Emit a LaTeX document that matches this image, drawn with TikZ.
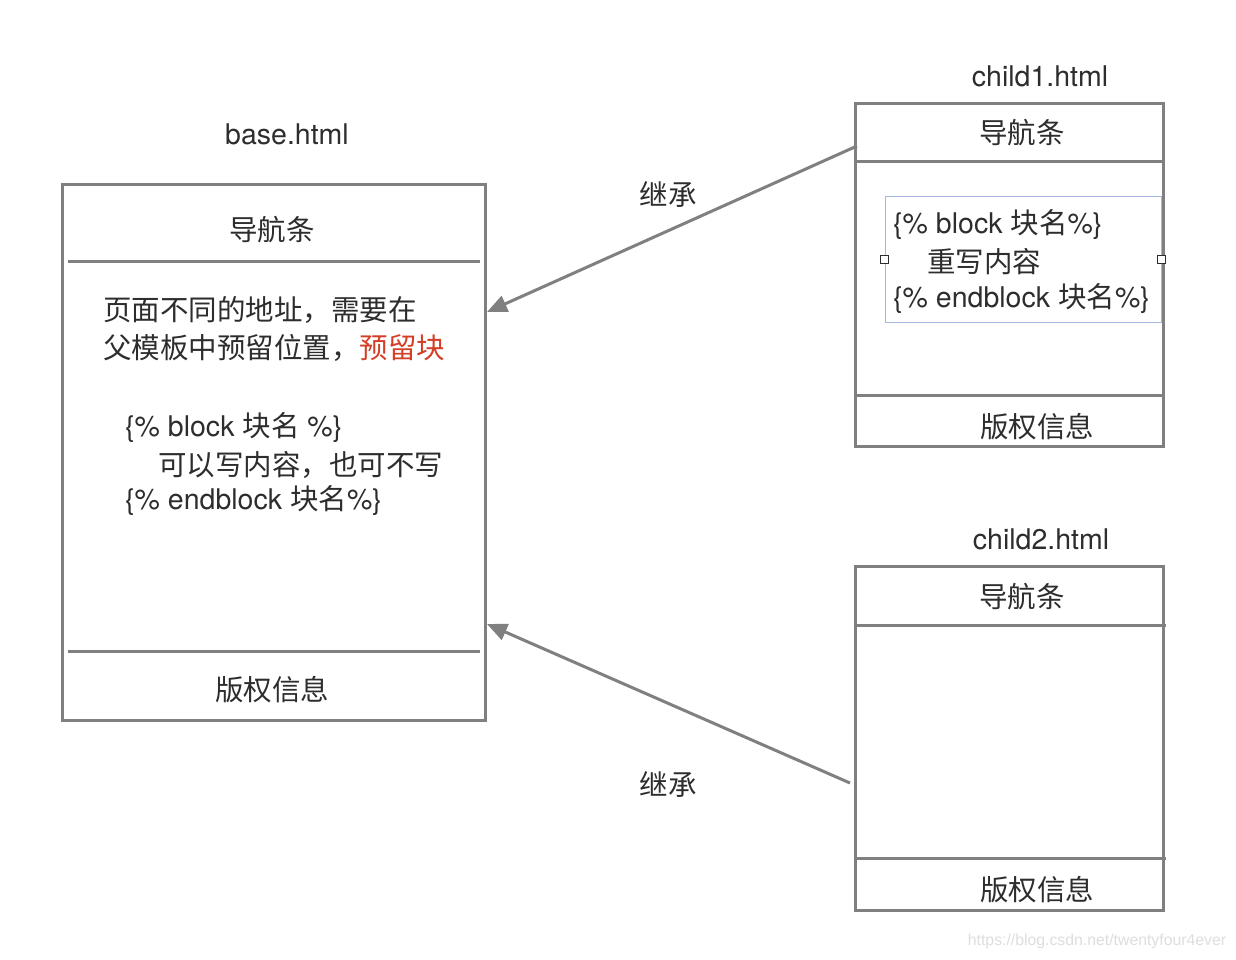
\documentclass[tikz,border=0pt]{standalone}
\usepackage{fontspec}
\setmainfont{TeX Gyre Heros}
\newfontfamily\cjk{Noto Sans CJK SC}
\newfontfamily\wmfont{Liberation Sans}
\usetikzlibrary{arrows.meta}
\definecolor{linegray}{RGB}{128,128,128}
\definecolor{txt}{RGB}{45,45,45}
\definecolor{redtxt}{RGB}{212,62,38}
\definecolor{bluebox}{RGB}{165,182,225}
\definecolor{wm}{RGB}{222,222,222}
\tikzset{
  frame/.style={draw=linegray, line width=3pt, inner sep=0pt},
  divider/.style={draw=linegray, line width=3pt},
  lbl/.style={text=txt, font=\fontsize{28.5}{34}\selectfont, inner sep=0pt, yshift=-1.5pt},
  arr/.style={draw=linegray, line width=3pt, -{Triangle[length=20pt,width=17pt]}},
  handle/.style={draw=txt, fill=white, line width=0.8pt, minimum size=8pt, inner sep=0pt},
}
\begin{document}
\begin{tikzpicture}[x=1pt,y=-1pt]
\useasboundingbox[fill=white] (0,0) rectangle (1236,960);

% ---------- base.html ----------
\node[frame, minimum width=423pt, minimum height=535pt] (base) at (273.5,452.5) {};
\draw[divider] (68,261) -- (480,261);
\draw[divider] (68,651) -- (480,651);
\node[lbl] (basettl) at (287,133) {base.html};
\node[lbl] (basenav) at (272,228) {\cjk 导航条};
\node[lbl, anchor=west] (bl1) at (103,308) {\cjk 页面不同的地址，需要在};
\node[lbl, anchor=west] (bl2) at (103,346) {\cjk 父模板中预留位置，\textcolor{redtxt}{预留块}};
\node[lbl, anchor=west] (bl3) at (125,426) {\{\% block {\cjk 块名} \%\}};
\node[lbl, anchor=west] (bl4) at (158,463) {\cjk 可以写内容，也可不写};
\node[lbl, anchor=west] (bl5) at (125,499) {\{\% endblock {\cjk 块名}\%\}};
\node[lbl] (basecopy) at (272,688) {\cjk 版权信息};

% ---------- child1.html ----------
\node[frame, minimum width=308pt, minimum height=342pt] (child1) at (1009,275) {};
\draw[divider] (855,162) -- (1163,162);
\draw[divider] (855,395) -- (1163,395);
\node[lbl] (c1ttl) at (1040,75) {child1.html};
\node[lbl] (c1nav) at (1022,131) {\cjk 导航条};
\node[draw=bluebox, line width=1pt, minimum width=276pt, minimum height=125pt, inner sep=0pt] (inner) at (1023,259.5) {};
\node[handle] (h1) at (inner.west) {};
\node[handle] (h2) at (inner.east) {};
\node[lbl, anchor=west] (c1l1) at (893,223) {\{\% block {\cjk 块名}\%\}};
\node[lbl, anchor=west] (c1l2) at (927,260) {\cjk 重写内容};
\node[lbl, anchor=west] (c1l3) at (893,297) {\{\% endblock {\cjk 块名}\%\}};
\node[lbl] (c1copy) at (1037,425) {\cjk 版权信息};

% ---------- child2.html ----------
\node[frame, minimum width=308pt, minimum height=344pt] (child2) at (1009,738) {};
\draw[divider] (855,625) -- (1166,625);
\draw[divider] (855,858) -- (1166,858);
\node[lbl] (c2ttl) at (1041,538) {child2.html};
\node[lbl] (c2nav) at (1022,595) {\cjk 导航条};
\node[lbl] (c2copy) at (1037,888) {\cjk 版权信息};

% ---------- arrows ----------
\coordinate (s1) at (857,146);
\coordinate (e1) at (487,312);
\coordinate (s2) at (850,783);
\coordinate (e2) at (487,624);
\draw[arr] (s1) -- (e1);
\draw[arr] (s2) -- (e2);
\node[lbl] (inh1) at (668,193) {\cjk 继承};
\node[lbl] (inh2) at (668,783) {\cjk 继承};

% ---------- watermark ----------
\node[text=wm, font=\wmfont\fontsize{15.8}{19}\selectfont, inner sep=0pt] (wmk) at (1097,941) {https://blog.csdn.net/twentyfour4ever};
\end{tikzpicture}
\end{document}
